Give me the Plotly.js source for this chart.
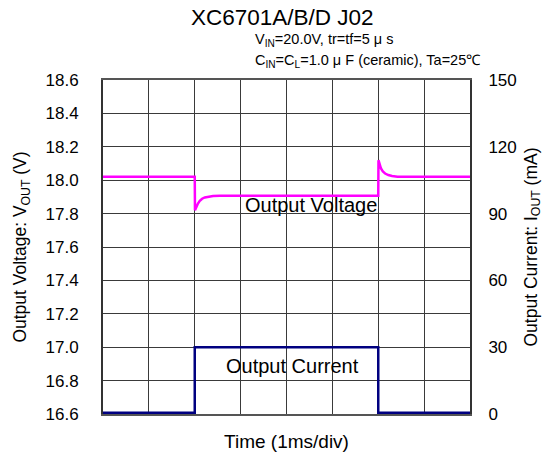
<!DOCTYPE html>
<html>
<head>
<meta charset="utf-8">
<script src="https://cdn.plot.ly/plotly-3.0.1.min.js"></script>
<style>html,body{margin:0;padding:0;background:#fff;}#chart{width:551px;height:460px;}</style>
</head>
<body>
<div id="chart"></div>
<script>
// Time (ms), 1ms/div
const voltageTime = [0, 2.0, 2.005, 2.03, 2.07, 2.11, 2.16, 2.22, 2.3, 2.4, 2.55, 6.0,
                     6.005, 6.03, 6.06, 6.1, 6.15, 6.22, 6.3, 6.42, 6.6, 8.0];
const voltageValues = [18.02, 18.02, 17.82, 17.84, 17.86, 17.876, 17.889, 17.897, 17.902, 17.905, 17.907, 17.907,
                       18.12, 18.09, 18.07, 18.052, 18.04, 18.031, 18.025, 18.021, 18.02, 18.02];
const currentTime = [0, 2.0, 2.0, 6.0, 6.0, 8.0];
const currentValues = [0.6, 0.6, 30, 30, 0.6, 0.6];
const leftTicks = [16.6, 16.8, 17.0, 17.2, 17.4, 17.6, 17.8, 18.0, 18.2, 18.4, 18.6];
const rightTicks = [0, 30, 60, 90, 120, 150];

const font = "Liberation Sans, Arial, sans-serif";

const traces = [
  {x: voltageTime, y: voltageValues, type: 'scatter', mode: 'lines',
   line: {color: '#ff00ff', width: 2.5}, yaxis: 'y', hoverinfo: 'none'},
  {x: currentTime, y: currentValues, type: 'scatter', mode: 'lines',
   line: {color: '#000080', width: 2.5}, yaxis: 'y2', hoverinfo: 'none'}
];

const layout = {
  width: 551, height: 460,
  margin: {l: 103, r: 81, t: 80, b: 46},
  paper_bgcolor: '#fff', plot_bgcolor: '#fff',
  showlegend: false,
  font: {family: font, color: '#000', size: 15},
  xaxis: {
    range: [0, 8], dtick: 1, tick0: 0, showticklabels: false, ticks: '',
    showgrid: true, gridcolor: '#3a3a3a', gridwidth: 1, zeroline: false,
    showline: true, linecolor: '#555', linewidth: 2, mirror: true,
    title: {text: 'Time (1ms/div)', font: {size: 19, family: font}, standoff: 20}
  },
  yaxis: {
    range: [16.6, 18.6], tickvals: leftTicks, ticktext: leftTicks.map(v => v.toFixed(1)),
    showgrid: true, gridcolor: '#3a3a3a', gridwidth: 1, zeroline: false,
    ticks: 'outside', ticklen: 19, tickcolor: 'rgba(0,0,0,0)',
    showline: true, linecolor: '#333', linewidth: 2, mirror: true,
    tickfont: {size: 17, family: font},
    title: {text: 'Output Voltage: V<sub>OUT</sub> (V)', font: {size: 17.5, family: font}, standoff: 14}
  },
  yaxis2: {
    range: [0, 150], tickvals: rightTicks, overlaying: 'y', side: 'right',
    showgrid: false, zeroline: false,
    ticks: 'outside', ticklen: 14, tickcolor: 'rgba(0,0,0,0)',
    tickfont: {size: 17, family: font},
    title: {text: 'Output Current: I<sub>OUT</sub> (mA)', font: {size: 17.5, family: font}, standoff: 8}
  },
  annotations: [
    {text: 'XC6701A/B/D J02', xref: 'paper', yref: 'paper', x: 0.49, y: 1.186,
     xanchor: 'center', yanchor: 'middle', showarrow: false, font: {size: 22.5, family: font}},
    {text: 'V<sub>IN</sub>=20.0V, tr=tf=5 μ s', xref: 'paper', yref: 'paper', x: 0.409, y: 1.12,
     xanchor: 'left', yanchor: 'middle', showarrow: false, font: {size: 14.5, family: font}},
    {text: 'C<sub>IN</sub>=C<sub>L</sub>=1.0 μ F (ceramic), Ta=25℃', xref: 'paper', yref: 'paper', x: 0.409, y: 1.057,
     xanchor: 'left', yanchor: 'middle', showarrow: false, font: {size: 14.5, family: font}},
    {text: 'Output Voltage', xref: 'x', yref: 'y', x: 4.53, y: 17.85,
     xanchor: 'center', yanchor: 'middle', showarrow: false, font: {size: 20, family: font}},
    {text: 'Output Current', xref: 'x', yref: 'y', x: 4.14, y: 16.89,
     xanchor: 'center', yanchor: 'middle', showarrow: false, font: {size: 20, family: font}}
  ]
};

Plotly.newPlot('chart', traces, layout, {displayModeBar: false, staticPlot: true});
</script>
</body>
</html>
